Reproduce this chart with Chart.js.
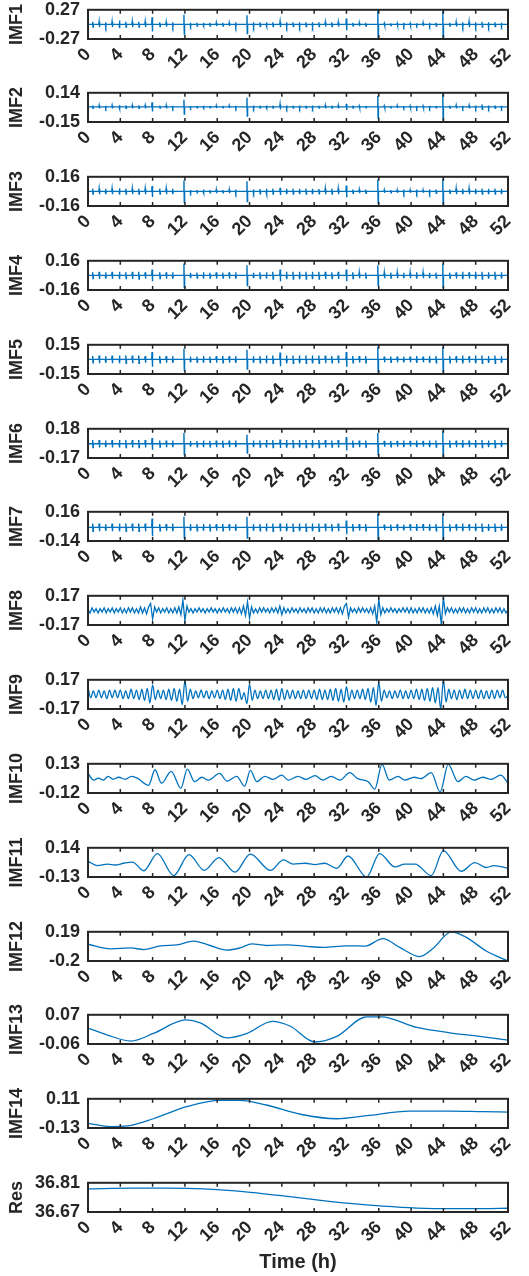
<!DOCTYPE html>
<html>
<head>
<meta charset="utf-8">
<script src="https://cdn.jsdelivr.net/npm/chart.js@4.4.0/dist/chart.umd.min.js"></script>
<style>
html, body { margin: 0; padding: 0; background: #fff; }
#wrap { position: relative; width: 529px; height: 1276px; overflow: hidden; }
#wrap canvas { position: absolute; left: 0; }
</style>
</head>
<body>
<div id="wrap"></div>
<script>
// panel names and the two y tick labels of every panel
const panelNames = ['IMF1', 'IMF2', 'IMF3', 'IMF4', 'IMF5', 'IMF6', 'IMF7', 'IMF8',
    'IMF9', 'IMF10', 'IMF11', 'IMF12', 'IMF13', 'IMF14', 'Res'];
const yTopLabels = ['0.27', '0.14', '0.16', '0.16', '0.15', '0.18', '0.16', '0.17',
    '0.17', '0.13', '0.14', '0.19', '0.07', '0.11', '36.81'];
const yBottomLabels = ['-0.27', '-0.15', '-0.16', '-0.16', '-0.15', '-0.17', '-0.14', '-0.17',
    '-0.17', '-0.12', '-0.13', '-0.2', '-0.06', '-0.13', '36.67'];
const xTicks = [0, 4, 8, 12, 16, 20, 24, 28, 32, 36, 40, 44, 48, 52];

// IMF1..IMF7: bursts (h) and their half heights
const spikeTimes = [
    0.6, 1.4, 2.2, 3.0, 3.9, 4.7, 5.5, 6.3, 7.1, 7.95,
    8.9, 9.7, 10.5, 11.9, 12.7, 13.5, 14.3, 15.1, 15.9, 16.7,
    17.5, 18.3, 19.7, 20.5, 21.3, 22.1, 22.9, 23.8, 24.6, 25.4,
    26.2, 27.0, 27.8, 28.6, 29.4, 30.2, 31.0, 32.0, 32.8, 33.6,
    34.4, 35.9, 36.7, 37.5, 38.3, 39.1, 39.9, 40.7, 41.5, 42.3,
    43.1, 43.95, 44.8, 45.6, 46.4, 47.2, 48.0, 48.8, 49.6, 50.4,
    51.2
];
const imf1Amp = [
    0.05, 0.05, 0.04, 0.05, 0.07, 0.05, 0.05, 0.05, 0.05, 0.13,
    0.04, 0.04, 0.04, 0.18, 0.03, 0.03, 0.03, 0.03, 0.03, 0.03,
    0.03, 0.04, 0.17, 0.04, 0.04, 0.04, 0.04, 0.05, 0.04, 0.04,
    0.04, 0.04, 0.04, 0.04, 0.04, 0.04, 0.04, 0.11, 0.03, 0.03,
    0.03, 0.26, 0.02, 0.02, 0.02, 0.03, 0.02, 0.02, 0.03, 0.03,
    0.03, 0.26, 0.03, 0.04, 0.04, 0.05, 0.04, 0.05, 0.04, 0.04,
    0.03
];
const imf2Amp = [
    0.015, 0.015, 0.012, 0.015, 0.02, 0.015, 0.015, 0.015, 0.015, 0.045,
    0.012, 0.015, 0.012, 0.07, 0.01, 0.01, 0.012, 0.01, 0.012, 0.01,
    0.012, 0.012, 0.09, 0.015, 0.012, 0.015, 0.012, 0.025, 0.015, 0.012,
    0.015, 0.012, 0.015, 0.012, 0.015, 0.012, 0.015, 0.03, 0.012, 0.01,
    0.01, 0.11, 0.01, 0.01, 0.012, 0.01, 0.01, 0.012, 0.01, 0.012,
    0.01, 0.13, 0.012, 0.015, 0.012, 0.015, 0.015, 0.025, 0.015, 0.015,
    0.012
];
const imf3Amp = [
    0.03, 0.03, 0.03, 0.03, 0.035, 0.03, 0.03, 0.03, 0.03, 0.06,
    0.03, 0.03, 0.03, 0.12, 0.015, 0.015, 0.02, 0.015, 0.02, 0.015,
    0.02, 0.02, 0.11, 0.02, 0.025, 0.03, 0.03, 0.04, 0.03, 0.03,
    0.03, 0.03, 0.03, 0.025, 0.03, 0.03, 0.03, 0.065, 0.02, 0.02,
    0.02, 0.13, 0.015, 0.015, 0.015, 0.02, 0.015, 0.02, 0.015, 0.02,
    0.02, 0.14, 0.02, 0.03, 0.03, 0.03, 0.03, 0.03, 0.03, 0.03,
    0.03
];
const imf4Amp = [
    0.035, 0.04, 0.035, 0.04, 0.04, 0.035, 0.04, 0.04, 0.035, 0.065,
    0.035, 0.035, 0.035, 0.13, 0.03, 0.03, 0.035, 0.03, 0.035, 0.03,
    0.035, 0.035, 0.11, 0.03, 0.035, 0.035, 0.04, 0.065, 0.04, 0.04,
    0.04, 0.04, 0.04, 0.04, 0.04, 0.035, 0.04, 0.065, 0.035, 0.03,
    0.03, 0.11, 0.03, 0.03, 0.03, 0.03, 0.03, 0.035, 0.03, 0.03,
    0.03, 0.13, 0.03, 0.035, 0.04, 0.035, 0.04, 0.04, 0.035, 0.04,
    0.035
];
const imf5Amp = [
    0.035, 0.04, 0.035, 0.04, 0.04, 0.04, 0.04, 0.04, 0.035, 0.075,
    0.035, 0.035, 0.035, 0.11, 0.03, 0.03, 0.035, 0.03, 0.035, 0.035,
    0.035, 0.035, 0.10, 0.035, 0.035, 0.04, 0.04, 0.07, 0.04, 0.04,
    0.04, 0.04, 0.04, 0.04, 0.04, 0.035, 0.04, 0.075, 0.035, 0.035,
    0.035, 0.13, 0.03, 0.03, 0.03, 0.03, 0.03, 0.035, 0.03, 0.035,
    0.035, 0.13, 0.035, 0.035, 0.04, 0.035, 0.04, 0.04, 0.035, 0.04,
    0.035
];
const imf6Amp = [
    0.045, 0.045, 0.04, 0.045, 0.045, 0.045, 0.045, 0.045, 0.045, 0.07,
    0.04, 0.04, 0.04, 0.13, 0.035, 0.035, 0.04, 0.035, 0.04, 0.04,
    0.04, 0.04, 0.11, 0.04, 0.04, 0.045, 0.045, 0.05, 0.045, 0.045,
    0.045, 0.045, 0.045, 0.045, 0.045, 0.04, 0.045, 0.08, 0.04, 0.04,
    0.04, 0.13, 0.035, 0.035, 0.035, 0.04, 0.035, 0.04, 0.035, 0.04,
    0.04, 0.16, 0.04, 0.04, 0.045, 0.04, 0.045, 0.045, 0.04, 0.045,
    0.04
];
const imf7Amp = [
    0.04, 0.04, 0.035, 0.04, 0.04, 0.04, 0.04, 0.04, 0.04, 0.09,
    0.035, 0.035, 0.04, 0.11, 0.035, 0.035, 0.035, 0.035, 0.035, 0.035,
    0.035, 0.035, 0.11, 0.035, 0.035, 0.04, 0.04, 0.04, 0.04, 0.04,
    0.04, 0.04, 0.04, 0.04, 0.04, 0.035, 0.04, 0.07, 0.035, 0.035,
    0.035, 0.14, 0.03, 0.03, 0.035, 0.03, 0.035, 0.035, 0.035, 0.035,
    0.035, 0.14, 0.035, 0.035, 0.04, 0.035, 0.04, 0.04, 0.035, 0.04,
    0.035
];

// IMF8: one value every 0.25 h (one row = 4 h)
const imf8Step = 0.25;
const imf8Values = [
    0.01, -0.03, 0.03, -0.02, 0.02, -0.03, 0.02, -0.02, 0.03, -0.03, 0.02, -0.02, 0.03, -0.03, 0.02, -0.02,
    0.03, -0.03, 0.02, -0.03, 0.03, -0.02, 0.03, -0.03, 0.02, -0.03, 0.04, -0.03, 0.03, -0.04, 0.04, 0.08,
    -0.10, 0.04, -0.02, 0.03, -0.03, 0.02, -0.02, 0.03, -0.03, 0.02, -0.03, 0.03, -0.03, 0.04, -0.05, 0.12,
    -0.12, 0.05, -0.02, 0.02, -0.03, 0.02, -0.02, 0.03, -0.02, 0.02, -0.03, 0.02, -0.02, 0.03, -0.02, 0.02,
    -0.03, 0.02, -0.02, 0.03, -0.02, 0.02, -0.03, 0.03, -0.02, 0.03, -0.03, 0.03, -0.04, 0.05, -0.06, 0.10,
    -0.09, 0.04, -0.03, 0.02, -0.03, 0.03, -0.02, 0.03, -0.02, 0.02, -0.03, 0.03, -0.02, 0.03, -0.03, 0.05,
    -0.05, 0.03, -0.03, 0.02, -0.03, 0.03, -0.02, 0.02, -0.03, 0.03, -0.02, 0.02, -0.03, 0.03, -0.02, 0.03,
    -0.03, 0.02, -0.03, 0.03, -0.02, 0.03, -0.03, 0.02, -0.03, 0.03, -0.02, 0.03, -0.03, 0.03, -0.04, 0.05,
    0.08, -0.08, 0.03, -0.02, 0.02, -0.03, 0.03, -0.02, 0.03, -0.02, 0.02, -0.03, 0.03, -0.04, 0.05, -0.14,
    0.13, -0.05, 0.03, -0.03, 0.02, -0.02, 0.03, -0.02, 0.02, -0.03, 0.02, -0.02, 0.03, -0.02, 0.03, -0.03,
    0.03, -0.03, 0.02, -0.03, 0.03, -0.02, 0.03, -0.03, 0.02, -0.03, 0.03, -0.04, 0.05, -0.06, 0.05, -0.17,
    0.15, -0.04, 0.03, -0.02, 0.03, -0.03, 0.02, -0.03, 0.03, -0.02, 0.03, -0.03, 0.02, -0.03, 0.03, -0.02,
    0.03, -0.03, 0.02, -0.03, 0.03, -0.02, 0.03, -0.03, 0.02, -0.03, 0.03, -0.02, 0.03, -0.03, 0.02, -0.03,
    0.01
];

// IMF9: one value every 1/3 h (one row = 4 h)
const imf9Step = 1 / 3;
const imf9Values = [
    0.08, -0.04, 0.04, -0.04, 0.05, -0.04, 0.04, -0.05, 0.05, -0.04, 0.05, -0.04,
    0.05, -0.05, 0.04, -0.05, 0.06, -0.05, 0.05, -0.06, 0.06, -0.07, 0.07, -0.10,
    0.11, -0.06, 0.05, -0.05, 0.05, -0.06, 0.06, -0.07, 0.07, -0.08, 0.06, -0.12,
    0.16, -0.08, 0.06, -0.05, 0.04, -0.04, 0.05, -0.04, 0.04, -0.05, 0.04, -0.04,
    0.05, -0.05, 0.05, -0.06, 0.06, -0.07, 0.07, -0.08, 0.07, -0.06, 0.02, -0.11,
    0.12, -0.07, 0.05, -0.05, 0.04, -0.05, 0.05, -0.05, 0.05, -0.06, 0.06, -0.07,
    0.07, -0.06, 0.05, -0.05, 0.05, -0.05, 0.04, -0.05, 0.05, -0.05, 0.05, -0.05,
    0.05, -0.06, 0.06, -0.06, 0.05, -0.06, 0.06, -0.07, 0.07, -0.08, 0.06, -0.09,
    0.09, -0.07, 0.05, -0.05, 0.05, -0.05, 0.06, -0.06, 0.07, -0.09, 0.08, -0.13,
    0.14, -0.08, 0.05, -0.04, 0.04, -0.05, 0.04, -0.04, 0.05, -0.05, 0.04, -0.05,
    0.05, -0.05, 0.06, -0.06, 0.06, -0.07, 0.07, -0.08, 0.08, -0.10, 0.08, -0.17,
    0.17, -0.09, 0.06, -0.05, 0.05, -0.06, 0.05, -0.05, 0.06, -0.05, 0.05, -0.05,
    0.05, -0.05, 0.05, -0.05, 0.04, -0.05, 0.05, -0.05, 0.05, -0.04, 0.05, -0.04,
    -0.01
];

// IMF10..Res: turning points (time h, value)
const imf10Time = [0, 0.7, 1.3, 1.9, 2.5, 3.1, 3.8, 4.6, 5.4, 6.2, 7.5, 8.3, 9.1, 10.3, 11.5, 12.3,
    13.2, 14.1, 14.9, 16.3, 17.2, 18.4, 19.4, 20.1, 20.9, 21.9, 22.9, 24.0, 24.8, 26.0, 27.0, 28.1,
    29.1, 30.1, 31.2, 32.4, 33.4, 34.7, 35.5, 36.4, 37.3, 38.4, 39.2, 40.4, 41.2, 42.5, 43.6, 44.6,
    45.8, 46.8, 47.8, 48.9, 49.9, 51.1, 52];
const imf10Values = [0.048, -0.01, 0.008, -0.01, 0.023, -0.003, 0.015, -0.003, 0.023, 0.003, -0.054,
    0.079, -0.036, 0.066, -0.079, 0.084, -0.023, 0.015, -0.01, 0.048, -0.018, 0.023, -0.061, 0.074,
    -0.023, 0.023, -0.003, 0.033, -0.01, 0.023, -0.003, 0.028, -0.01, 0.023, -0.01, 0.054, 0.003,
    -0.023, -0.087, 0.125, -0.01, 0.023, -0.01, 0.015, 0.003, 0.054, -0.112, 0.125, -0.023, 0.023,
    -0.01, 0.015, -0.003, 0.033, -0.036];

const imf11Time = [0, 1.15, 2.4, 3.4, 4.4, 5.5, 6.9, 8.6, 10.6, 12.5, 14.4, 16.2, 18.2, 20.1, 22.6,
    24.2, 25.4, 26.9, 28.1, 29.3, 30.8, 32.2, 34.5, 36.1, 38.0, 39.2, 40.5, 42.5, 44.0, 46.2, 47.9,
    49.3, 50.3, 52];
const imf11Values = [0.016, -0.024, -0.011, -0.019, -0.003, 0.008, -0.072, 0.087, -0.117, 0.077,
    -0.069, 0.05, -0.085, 0.082, -0.069, 0.029, -0.011, -0.003, -0.016, -0.003, -0.05, 0.064, -0.13,
    0.087, -0.037, -0.011, -0.011, -0.117, 0.114, -0.077, 0.003, -0.042, -0.024, -0.05];

const imf12Time = [0, 2.8, 5.3, 6.9, 9.0, 11.0, 13.1, 15.1, 17.2, 18.8, 20.3, 22.1, 24.6, 27.1, 29.1,
    32.0, 34.3, 36.5, 38.6, 41.1, 42.7, 45.0, 46.8, 49.3, 52];
const imf12Values = [0.024, -0.038, -0.026, -0.047, 0.003, 0.016, 0.066, 0.007, -0.055, -0.026,
    0.028, 0.007, 0.016, -0.005, -0.018, 0.003, -0.001, 0.099, -0.018, -0.142, -0.034, 0.19, 0.119,
    -0.067, -0.2];

const imf13Time = [0, 2.4, 5.3, 8.1, 12.1, 13.9, 17.2, 19.7, 22.8, 25.0, 28.1, 30.8, 34.5, 36.3, 40.7,
    44.8, 48.5, 52];
const imf13Values = [0.011, -0.02, -0.047, -0.013, 0.047, 0.034, -0.033, -0.013, 0.041, 0.02, -0.051,
    -0.026, 0.061, 0.061, 0.014, -0.01, -0.026, -0.043];

const imf14Time = [0, 2.8, 4.9, 8.1, 12.3, 16.4, 18.8, 22.1, 26.3, 30.8, 34.5, 39.8, 44.8, 48.9, 52];
const imf14Values = [-0.092, -0.118, -0.113, -0.054, 0.047, 0.097, 0.097, 0.059, -0.017, -0.054,
    -0.029, 0.009, 0.009, 0.004, 0.001];

const resTime = [0, 5.7, 9.8, 12.3, 16.0, 20.1, 24.2, 28.3, 32.4, 36.5, 40.7, 44.8, 48.9, 52];
const resValues = [36.781, 36.784, 36.784, 36.783, 36.777, 36.764, 36.747, 36.728, 36.711, 36.698,
    36.689, 36.686, 36.686, 36.688];

const lineColor = '#0072BD';
const inkColor = '#262626';
const fontFamily = '"Liberation Sans", Arial, sans-serif';

function spikeLine(amps) {
    const pts = [{ x: 0, y: 0 }];
    spikeTimes.forEach((t, i) => {
        const a = amps[i];
        pts.push({ x: t - 0.06, y: 0 }, { x: t - 0.02, y: a }, { x: t + 0.02, y: -a }, { x: t + 0.06, y: 0 });
    });
    pts.push({ x: 52, y: 0 });
    return pts;
}

function stepLine(values, step) {
    return values.map((v, i) => ({ x: i * step, y: v }));
}

function pairLine(times, values) {
    return times.map((t, i) => ({ x: t, y: values[i] }));
}

const panelData = [
    spikeLine(imf1Amp), spikeLine(imf2Amp), spikeLine(imf3Amp), spikeLine(imf4Amp),
    spikeLine(imf5Amp), spikeLine(imf6Amp), spikeLine(imf7Amp),
    stepLine(imf8Values, imf8Step), stepLine(imf9Values, imf9Step),
    pairLine(imf10Time, imf10Values), pairLine(imf11Time, imf11Values),
    pairLine(imf12Time, imf12Values), pairLine(imf13Time, imf13Values),
    pairLine(imf14Time, imf14Values), pairLine(resTime, resValues)
];

// box with inward tick marks, MATLAB style
const boxPlugin = {
    id: 'box',
    afterDatasetsDraw(chart) {
        const { ctx, chartArea: a, scales: { x } } = chart;
        ctx.save();
        ctx.strokeStyle = inkColor;
        ctx.lineWidth = 1.5;
        ctx.beginPath();
        xTicks.forEach(v => {
            const px = x.getPixelForValue(v);
            ctx.moveTo(px, a.top);
            ctx.lineTo(px, a.top + 4);
            ctx.moveTo(px, a.bottom);
            ctx.lineTo(px, a.bottom - 4);
        });
        ctx.stroke();
        ctx.lineWidth = 2;
        ctx.strokeRect(a.left, a.top, a.right - a.left, a.bottom - a.top);
        ctx.restore();
    }
};

const wrap = document.getElementById('wrap');
const firstTop = 6.5;
const panelGap = 83.83;
const boxHeight = 32;
const topPad = 16;

panelNames.forEach((name, i) => {
    const last = i === panelNames.length - 1;
    const boxTop = Math.round(firstTop + i * panelGap);
    const canvasTop = boxTop - topPad;
    const h = last ? 1276 - canvasTop : 110;
    const canvas = document.createElement('canvas');
    canvas.width = 529;
    canvas.height = h;
    canvas.style.top = canvasTop + 'px';
    canvas.style.width = '529px';
    canvas.style.height = h + 'px';
    wrap.appendChild(canvas);

    const yMax = parseFloat(yTopLabels[i]);
    const yMin = parseFloat(yBottomLabels[i]);
    const smooth = i >= 8;

    new Chart(canvas, {
        type: 'line',
        data: {
            datasets: [{
                data: panelData[i],
                borderColor: lineColor,
                borderWidth: i < 7 ? 1.4 : 1.3,
                pointRadius: 0,
                tension: 0,
                cubicInterpolationMode: smooth ? 'monotone' : 'default'
            }]
        },
        options: {
            responsive: false,
            animation: false,
            devicePixelRatio: 1,
            layout: { padding: { left: 0, right: 21, top: topPad, bottom: 0 } },
            plugins: { legend: { display: false }, tooltip: { enabled: false } },
            scales: {
                x: {
                    type: 'linear',
                    min: 0,
                    max: 52,
                    afterBuildTicks: axis => { axis.ticks = xTicks.map(v => ({ value: v })); },
                    afterFit: axis => { axis.height = h - topPad - boxHeight; },
                    grid: { display: false, drawTicks: false },
                    border: { display: false },
                    ticks: {
                        autoSkip: false,
                        minRotation: 45,
                        maxRotation: 45,
                        padding: 5,
                        color: inkColor,
                        font: { family: fontFamily, size: 18, weight: 'bold' }
                    },
                    title: {
                        display: last,
                        text: 'Time (h)',
                        color: inkColor,
                        padding: { top: 0, bottom: 2 },
                        font: { family: fontFamily, size: 20, weight: 'bold' }
                    }
                },
                y: {
                    min: yMin,
                    max: yMax,
                    afterBuildTicks: axis => { axis.ticks = [{ value: yMin }, { value: yMax }]; },
                    afterFit: axis => { axis.width = 88; },
                    grid: { display: false, drawTicks: false },
                    border: { display: false },
                    ticks: {
                        padding: 8,
                        color: inkColor,
                        font: { family: fontFamily, size: 18, weight: 'bold' },
                        callback: v => (v === yMax ? yTopLabels[i] : yBottomLabels[i])
                    },
                    title: {
                        display: true,
                        text: name,
                        color: inkColor,
                        padding: { top: 6, bottom: 0 },
                        font: { family: fontFamily, size: 18, weight: 'bold' }
                    }
                }
            }
        },
        plugins: [boxPlugin]
    });
});
</script>
</body>
</html>
